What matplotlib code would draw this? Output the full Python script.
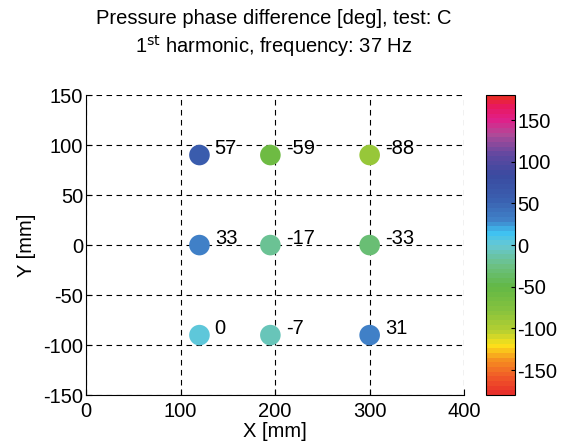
import numpy as np
import matplotlib.pyplot as plt
from matplotlib.colors import LinearSegmentedColormap, Normalize

plt.rcParams['font.family'] = ['Liberation Sans', 'DejaVu Sans']
plt.rcParams['axes.unicode_minus'] = False

# Measurement points [mm] and phase difference [deg]
x_mm = [120, 195, 300, 120, 195, 300, 120, 195, 300]
y_mm = [90, 90, 90, 0, 0, 0, -90, -90, -90]
phase = [57, -59, -88, 33, -17, -33, 0, -7, 31]

# colour map anchors (deg, colour)
cmap_pos = [-180, -160, -140, -122, -105, -80, -50, -25, 0, 15, 30, 55, 85, 110, 135, 152, 168, 180]
cmap_col = ['#e8302a', '#f05a28', '#f59020', '#fde21a', '#b8d030', '#86c23e',
            '#62b846', '#6cc084', '#66c8d4', '#3ec2f2', '#4082c8', '#3a60b0',
            '#3a4aa0', '#6048a0', '#b04a98', '#e0208a', '#e81860', '#e82a2a']

cmap = LinearSegmentedColormap.from_list(
    'phase', [((p + 180) / 360, c) for p, c in zip(cmap_pos, cmap_col)], N=64)
norm = Normalize(-180, 180)

fs = 14.5

fig = plt.figure(figsize=(5.62, 4.44), dpi=100)
ax = fig.add_axes([0.153, 0.110, 0.673, 0.676])
cax = fig.add_axes([0.865, 0.110, 0.051, 0.676])

sc = ax.scatter(x_mm, y_mm, c=phase, cmap=cmap, norm=norm, s=220,
                edgecolors='none', zorder=3)
for xi, yi, p in zip(x_mm, y_mm, phase):
    ax.annotate(str(p), (xi, yi), xytext=(11, 4.5), textcoords='offset points',
                fontsize=fs, va='center', ha='left', zorder=4)

ax.set_xlim(0, 400)
ax.set_ylim(-150, 150)
ax.set_xticks(np.arange(0, 401, 100))
ax.set_yticks(np.arange(-150, 151, 50))
ax.grid(True, color='black', linestyle=(0, (5, 4)), linewidth=0.8)
ax.spines['top'].set_visible(False)
ax.spines['right'].set_visible(False)
ax.tick_params(direction='in', labelsize=fs, length=4)
ax.tick_params(axis='x', pad=5)
ax.tick_params(axis='y', pad=2)
ax.set_xlabel('X [mm]', fontsize=fs, labelpad=1)
ax.set_ylabel('Y [mm]', fontsize=fs, labelpad=5)

fig.text(0.487, 0.958, 'Pressure phase difference [deg], test: C',
         fontsize=fs, ha='center', va='center')
fig.text(0.487, 0.897, r'1$^{\rm st}$ harmonic, frequency: 37 Hz',
         fontsize=fs, ha='center', va='center')

cb = fig.colorbar(sc, cax=cax)
cb.set_ticks(np.arange(-150, 151, 50))
cax.tick_params(direction='in', labelsize=fs, length=3, pad=2)

fig.savefig('out.png', dpi=100)
